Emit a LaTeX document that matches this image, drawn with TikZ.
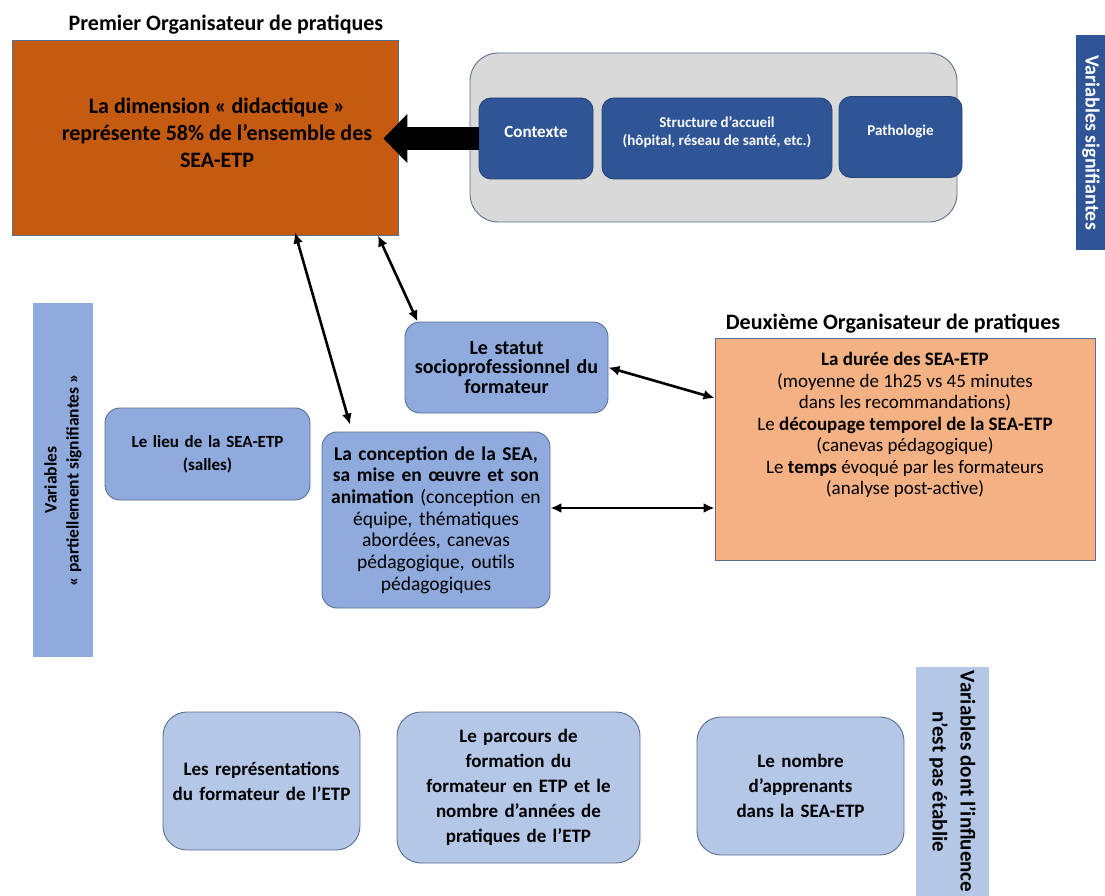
\documentclass[tikz,border=0pt]{standalone}
\usepackage{fontspec}
\setmainfont{Carlito}
\usetikzlibrary{arrows.meta, calc}
\definecolor{cdarkorange}{HTML}{C55A11}
\definecolor{clightorange}{HTML}{F4B183}
\definecolor{cnavy}{HTML}{2F5597}
\definecolor{cmidblue}{HTML}{8FAADC}
\definecolor{cpaleblue}{HTML}{B4C7E7}
\definecolor{cgreybox}{HTML}{D9D9D9}
\definecolor{cedge}{HTML}{5B6E8F}
\tikzset{
  every picture/.style={line width=0.9pt},
  orgbox/.style={draw=cedge, fill=#1, inner sep=0pt},
  varbox/.style={draw=cedge, fill=#1, rounded corners=15pt, align=center, inner sep=3pt, font=\bfseries\fontsize{17}{23}\selectfont},
  varbox/.default=cmidblue,
  keybox/.style={fill=cnavy, draw=cnavy!80!black, rounded corners=12pt, text=white, align=center, text depth=14pt, font=\bfseries\fontsize{15}{18}\selectfont},
  band/.style={fill=#1, inner sep=0pt, align=center, font=\bfseries\fontsize{17.5}{22}\selectfont},
  title/.style={font=\bfseries\fontsize{22}{26}\selectfont},
  link/.style={{Latex[length=11pt,width=10pt]}-{Latex[length=11pt,width=10pt]}, line width=2.6pt},
  bigarrow/.style={-{Triangle[length=24pt,width=48pt]}, line width=23pt},
}
\begin{document}
\begin{tikzpicture}[x=1pt, y=-1pt]
  \useasboundingbox (0,0) rectangle (1105,896);

  \node[title] (org1) at (226,25) {Premier Organisateur de pratiques};
  \node[orgbox=cdarkorange, minimum width=386pt, minimum height=195pt] (didac) at (205,137.5) {};
  \node[font=\bfseries\fontsize{22}{27}\selectfont, align=center] (didactxt) at ([xshift=12pt,yshift=5pt]didac.center)
    {La dimension «~didactique~»\\représente 58\% de l'ensemble des\\SEA-ETP};

  \node[draw=cedge, fill=cgreybox, rounded corners=28pt, minimum width=487pt, minimum height=169pt] (ctxgroup) at (713.5,137.5) {};
  \node[keybox, font=\bfseries\fontsize{17}{20}\selectfont, minimum width=114pt, minimum height=81pt] (ctx) at (536,138.5) {Contexte};
  \node[keybox, minimum width=230pt, minimum height=81pt] (struct) at (717,138.5) {Structure d'accueil\\(hôpital, réseau de santé, etc.)};
  \node[keybox, minimum width=123pt, minimum height=81pt] (patho) at (900.5,137) {Pathologie};
  \node[band=cnavy, text=white, rotate=-90, font=\bfseries\fontsize{20}{24}\selectfont, minimum width=215pt, minimum height=30pt] (sigbar) at (1091,142.5) {Variables signifiantes};
  \draw[bigarrow] (ctx.west) -- ([xshift=-15pt]ctx.west -| didac.east);

  \node[band=cmidblue, rotate=90, minimum width=354pt, minimum height=60pt] (partbar) at (63,480)
    {Variables\\« partiellement signifiantes »};
  \node[varbox, minimum width=205pt, minimum height=92pt, text width=195pt] (lieu) at (207.5,454) {Le lieu de la SEA-ETP\\(salles)};
  \node[varbox, font=\bfseries\fontsize{20}{19.5}\selectfont, minimum width=203pt, minimum height=91pt, text width=196pt] (statut) at (506.5,367.5) {Le statut\\socioprofessionnel du\\formateur};
  \node[varbox, font=\fontsize{19.5}{21.7}\selectfont, minimum width=228pt, minimum height=176pt, text width=220pt] (concep) at (436,520)
    {\textbf{La conception de la SEA,}\\\textbf{sa mise en œuvre et son}\\\textbf{animation} (conception en\\équipe, thématiques\\abordées, canevas\\pédagogique, outils\\pédagogiques};

  \node[title] (org2) at (893,324) {Deuxième Organisateur de pratiques};
  \node[orgbox=clightorange, minimum width=380pt, minimum height=222pt] (deux) at (905,449) {};
  \node[font=\fontsize{19}{21.5}\selectfont, align=center] (deuxtxt) at ([yshift=24pt]deux.center)
    {\textbf{La durée des SEA-ETP}\\(moyenne de 1h25 vs 45 minutes\\dans les recommandations)\\Le \textbf{découpage temporel de la SEA-ETP}\\(canevas pédagogique)\\Le \textbf{temps} évoqué par les formateurs\\(analyse post-active)};

  \draw[link] ([xshift=90pt,yshift=3pt]didac.south) -- ([xshift=-86pt,yshift=7pt]concep.north);
  \draw[link] ([xshift=173pt]didac.south) -- ([xshift=13pt]statut.north west);
  \draw[link] (statut.east) -- ([yshift=51pt]deux.west);
  \draw[link] ([yshift=12pt]concep.east) -- ([yshift=12pt]concep.east -| deux.west);

  \node[varbox=cpaleblue, rounded corners=24pt, font=\bfseries\fontsize{19}{25}\selectfont, minimum width=197pt, minimum height=138pt, text width=190pt] (repr) at (261.5,781)
    {Les représentations\\du formateur de l'ETP};
  \node[varbox=cpaleblue, rounded corners=24pt, font=\bfseries\fontsize{19}{25}\selectfont, minimum width=243pt, minimum height=151pt, text width=230pt] (parcours) at (518.5,787.5)
    {Le parcours de\\formation du\\formateur en ETP et le\\nombre d'années de\\pratiques de l'ETP};
  \node[varbox=cpaleblue, rounded corners=24pt, font=\bfseries\fontsize{19}{25}\selectfont, minimum width=207pt, minimum height=138pt, text width=195pt] (nombre) at (800.5,786)
    {Le nombre\\d'apprenants\\dans la SEA-ETP};
  \node[band=cpaleblue, rotate=-90, font=\bfseries\fontsize{21}{28}\selectfont, minimum width=229pt, minimum height=73pt] (nsbar) at (952.5,781.5)
    {Variables dont l'influence\\n'est pas établie};
\end{tikzpicture}
\end{document}
